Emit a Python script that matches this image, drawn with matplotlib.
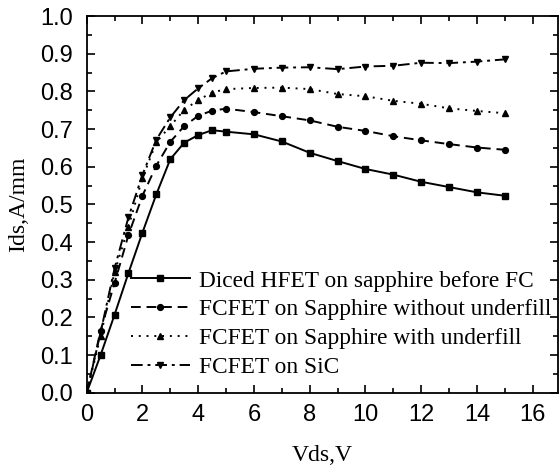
import numpy as np
import matplotlib.pyplot as plt
from matplotlib.ticker import MultipleLocator

plt.rcParams["font.family"] = ["Liberation Sans", "DejaVu Sans"]

# ===================== data =====================
vds = [0, 0.5, 1, 1.5, 2, 2.5, 3, 3.5, 4, 4.5, 5, 6, 7, 8, 9, 10, 11, 12, 13, 14, 15]

ids_diced = [0, 0.100, 0.207, 0.318, 0.425, 0.527, 0.620, 0.664, 0.684, 0.697, 0.693,
             0.686, 0.667, 0.637, 0.615, 0.594, 0.579, 0.560, 0.546, 0.532, 0.523]
ids_no_fill = [0, 0.165, 0.291, 0.419, 0.523, 0.603, 0.666, 0.708, 0.735, 0.749, 0.754,
               0.745, 0.734, 0.723, 0.706, 0.695, 0.681, 0.670, 0.660, 0.651, 0.645]
ids_fill = [0, 0.150, 0.320, 0.440, 0.570, 0.665, 0.708, 0.751, 0.777, 0.797, 0.806,
            0.809, 0.810, 0.806, 0.793, 0.787, 0.775, 0.767, 0.755, 0.748, 0.742]
ids_sic = [0, 0.160, 0.330, 0.466, 0.578, 0.672, 0.731, 0.777, 0.808, 0.835, 0.853,
           0.860, 0.863, 0.864, 0.859, 0.866, 0.868, 0.876, 0.875, 0.879, 0.885]

labels = ["Diced HFET on sapphire before FC",
          "FCFET on Sapphire without underfill",
          "FCFET on Sapphire with underfill",
          "FCFET on SiC"]

# ===================== plot =====================
fig = plt.figure(figsize=(5.59, 4.71), dpi=100)
ax = fig.add_axes([0.155, 0.166, 0.843, 0.800])

lw = 1.4
ms = 4.2
ax.plot(vds, ids_diced, color="black", lw=lw, ls="-", marker="s", ms=ms - 0.5, label=labels[0])
ax.plot(vds, ids_no_fill, color="black", lw=lw, ls=(0, (5, 3)), marker="o", ms=ms, label=labels[1])
ax.plot(vds, ids_fill, color="black", lw=lw, ls=(0, (1, 3)), marker="^", ms=ms + 0.5, label=labels[2])
ax.plot(vds, ids_sic, color="black", lw=lw, ls=(0, (6, 2.5, 1.5, 2.5)), marker="v", ms=ms + 0.5, label=labels[3])

ax.set_xlim(0, 16.9)
ax.set_ylim(0, 1.0)
ax.xaxis.set_major_locator(MultipleLocator(2))
ax.xaxis.set_minor_locator(MultipleLocator(1))
ax.yaxis.set_major_locator(MultipleLocator(0.1))
ax.yaxis.set_minor_locator(MultipleLocator(0.05))
ax.set_yticklabels([f"{v:.1f}" for v in ax.get_yticks()])

ax.tick_params(which="both", direction="in", top=True, right=True, labelsize=17, width=1.2)
ax.tick_params(axis="x", pad=8)
ax.tick_params(axis="y", pad=10)
ax.tick_params(which="major", length=6)
ax.tick_params(which="minor", length=3.5)
for s in ax.spines.values():
    s.set_linewidth(1.3)

ax.set_xlabel("Vds,V", family="Liberation Serif", fontsize=17, labelpad=14)
ax.set_ylabel("Ids,A/mm", family="Liberation Serif", fontsize=17, labelpad=8)

ax.legend(loc="upper left", bbox_to_anchor=(0.075, 0.35), frameon=False,
          prop={"family": "Liberation Serif", "size": 16.8}, handlelength=2.5,
          labelspacing=0.32, handletextpad=0.4, borderaxespad=0)

plt.savefig("out.png", dpi=100)
